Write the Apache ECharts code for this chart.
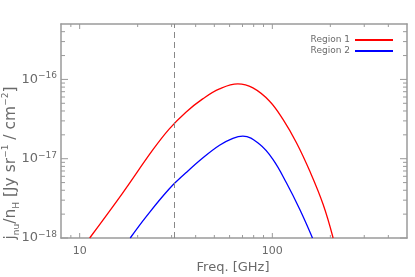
<!DOCTYPE html>
<html>
<head>
<meta charset="utf-8">
<script src="https://cdn.jsdelivr.net/npm/echarts@6/dist/echarts.min.js"></script>
<style>
  html, body { margin: 0; padding: 0; background: #fff; }
  #chart { width: 415px; height: 277px; }
</style>
</head>
<body>
<div id="chart"></div>
<script>
// values
var freq1 = [11.27, 16.67, 23.9, 29.2, 35.6, 43.5, 53.2, 66.2, 79.3, 96.8, 113.6, 133.4, 156.4, 183.4, 206.8];
var region1 = [1.0e-18, 3.66e-18, 1.28e-17, 2.38e-17, 3.86e-17, 5.68e-17, 7.59e-17, 8.78e-17, 7.81e-17, 5.31e-17, 3.13e-17, 1.59e-17, 6.98e-18, 2.66e-18, 1.0e-18];
var freq2 = [18.3, 22.1, 29.2, 35.6, 43.5, 53.2, 62.4, 70.3, 85.9, 100.7, 118.3, 138.7, 161.6];
var region2 = [1.0e-18, 1.85e-18, 4.18e-18, 6.64e-18, 1.02e-17, 1.48e-17, 1.81e-17, 1.93e-17, 1.52e-17, 9.8e-18, 4.97e-18, 2.30e-18, 1.0e-18];
var markFreq = 31;

var xMin = 8, xMax = 500, yMin = 1e-18, yMax = 5e-16;
var xMajor = [10, 100];
var xMinor = [9, 20, 30, 40, 50, 60, 70, 80, 90, 200, 300, 400];
var yMajor = [1e-18, 1e-17, 1e-16];
var yMinor = [2e-18, 3e-18, 4e-18, 5e-18, 6e-18, 7e-18, 8e-18, 9e-18,
              2e-17, 3e-17, 4e-17, 5e-17, 6e-17, 7e-17, 8e-17, 9e-17,
              2e-16, 3e-16, 4e-16];

var gray = '#9a9a9a';
var textGray = '#6a6a6a';
var font = 'DejaVu Sans';

function pairs(xs, ys) {
    var out = [];
    for (var i = 0; i < xs.length; i++) out.push([xs[i], ys[i]]);
    return out;
}

// short inward ticks on both opposite sides, placed through the axes' own scales
function xTicks(vals, len) {
    return {
        type: 'custom', silent: true, clip: false, z: 5,
        data: vals.map(function (v) { return [v, yMin]; }),
        renderItem: function (params, api) {
            var b = api.coord([api.value(0), yMin]), t = api.coord([api.value(0), yMax]);
            return {type: 'group', children: [
                {type: 'line', shape: {x1: b[0], y1: b[1], x2: b[0], y2: b[1] - len}, style: {stroke: gray, lineWidth: 1}},
                {type: 'line', shape: {x1: t[0], y1: t[1], x2: t[0], y2: t[1] + len}, style: {stroke: gray, lineWidth: 1}}
            ]};
        }
    };
}
function yTicks(vals, len) {
    return {
        type: 'custom', silent: true, clip: false, z: 5,
        data: vals.map(function (v) { return [xMin, v]; }),
        renderItem: function (params, api) {
            var l = api.coord([xMin, api.value(1)]), r = api.coord([xMax, api.value(1)]);
            return {type: 'group', children: [
                {type: 'line', shape: {x1: l[0], y1: l[1], x2: l[0] + len, y2: l[1]}, style: {stroke: gray, lineWidth: 1}},
                {type: 'line', shape: {x1: r[0], y1: r[1], x2: r[0] - len, y2: r[1]}, style: {stroke: gray, lineWidth: 1}}
            ]};
        }
    };
}

function xAx(pos, showLabel) {
    return {
        type: 'log', logBase: 10, min: xMin, max: xMax, position: pos,
        axisLine: {show: true, onZero: false, lineStyle: {color: gray, width: 1.5}},
        axisTick: {show: false},
        axisLabel: {show: showLabel, customValues: xMajor, color: textGray, fontFamily: font, fontSize: 11, margin: 8},
        splitLine: {show: false}, minorTick: {show: false}
    };
}
function yAx(pos, showLabel) {
    return {
        type: 'log', logBase: 10, min: yMin, max: yMax, position: pos,
        axisLine: {show: true, onZero: false, lineStyle: {color: gray, width: 1.5}},
        axisTick: {show: false},
        axisLabel: {
            show: showLabel, customValues: yMajor, margin: 4,
            formatter: function (v) {
                var e = Math.round(Math.log10(v));
                return '10{sup|\u2212' + Math.abs(e) + '}';
            },
            color: textGray, fontFamily: font, fontSize: 13, lineHeight: 16,
            rich: {sup: {fontSize: 9, verticalAlign: 'top', lineHeight: 10, color: textGray, fontFamily: font}}
        },
        splitLine: {show: false}, minorTick: {show: false}
    };
}

var chart = echarts.init(document.getElementById('chart'), null, {renderer: 'canvas'});
chart.setOption({
    animation: false,
    backgroundColor: '#fff',
    grid: {left: 61, right: 8, top: 24, bottom: 39, containLabel: false},
    legend: {
        data: ['Region 1', 'Region 2'],
        orient: 'vertical', right: 22, top: 35, align: 'right',
        icon: 'rect', itemWidth: 38, itemHeight: 2, itemGap: 1, padding: 0,
        textStyle: {color: textGray, fontFamily: font, fontSize: 9, lineHeight: 10}
    },
    xAxis: [xAx('bottom', true), xAx('top', false)],
    yAxis: [yAx('left', true), yAx('right', false)],
    graphic: [
        {
            type: 'text', x: 233, y: 268,
            style: {text: 'Freq. [GHz]', fill: textGray, font: '13px ' + font, align: 'center', verticalAlign: 'middle'}
        },
        {
            type: 'text', x: 11, y: 163, rotation: Math.PI / 2,
            style: {
                text: 'j{sub|nu}/n{sub|H} [Jy sr{sup|\u22121} / cm{sup|\u22122}]',
                fill: textGray, font: '15.5px ' + font, align: 'center', verticalAlign: 'middle', lineHeight: 20,
                rich: {
                    sub: {fontSize: 9, verticalAlign: 'bottom', lineHeight: 14, fill: textGray, fontFamily: font},
                    sup: {fontSize: 9, verticalAlign: 'top', lineHeight: 14, fill: textGray, fontFamily: font}
                }
            }
        }
    ],
    series: [
        {
            name: 'Region 1', type: 'line', xAxisIndex: 0, yAxisIndex: 0,
            data: pairs(freq1, region1), smooth: 0.4, symbol: 'none',
            lineStyle: {color: '#ff0000', width: 1.3}, itemStyle: {color: '#ff0000'},
            markLine: {
                silent: true, symbol: 'none', label: {show: false},
                lineStyle: {color: '#888', type: [6, 4], width: 1},
                data: [{xAxis: markFreq}]
            }
        },
        {
            name: 'Region 2', type: 'line', xAxisIndex: 0, yAxisIndex: 0,
            data: pairs(freq2, region2), smooth: 0.4, symbol: 'none',
            lineStyle: {color: '#0000ff', width: 1.3}, itemStyle: {color: '#0000ff'}
        },
        xTicks(xMajor, 5),
        xTicks(xMinor, 3),
        yTicks(yMajor, 7),
        yTicks(yMinor, 4)
    ]
});
</script>
</body>
</html>
